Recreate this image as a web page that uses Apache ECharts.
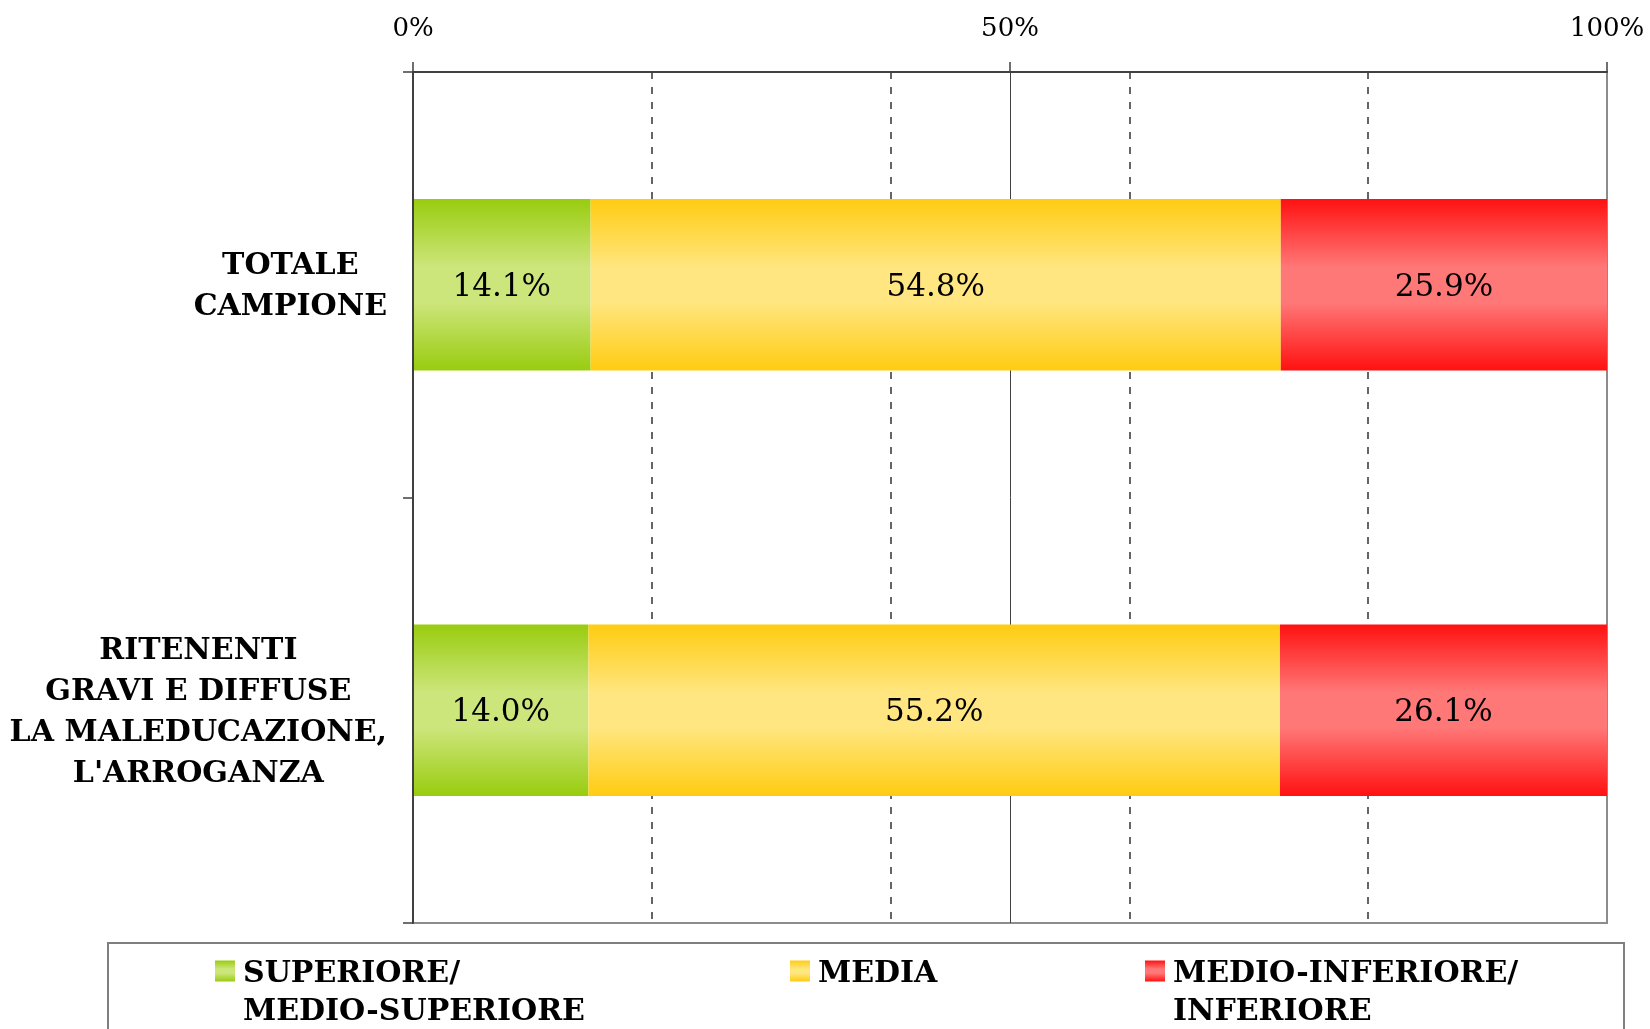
<!DOCTYPE html>
<html>
<head>
<meta charset="utf-8">
<script src="https://cdn.jsdelivr.net/npm/echarts@6/dist/echarts.min.js"></script>
<style>
html,body{margin:0;padding:0;background:#fff;}
#chart{width:1650px;height:1029px;}
</style>
</head>
<body>
<div id="chart"></div>
<script>
const categories = ['TOTALE\nCAMPIONE', "RITENENTI\nGRAVI E DIFFUSE\nLA MALEDUCAZIONE,\nL'ARROGANZA"];
const seriesNames = ['SUPERIORE/\nMEDIO-SUPERIORE', 'MEDIA', 'MEDIO-INFERIORE/\nINFERIORE'];
const superiore = [14.1, 14.0];
const media = [54.8, 55.2];
const inferiore = [25.9, 26.1];
const xTickLabels = ['0%', '50%', '100%'];

const rawSeries = [superiore, media, inferiore];
const totals = categories.map((c, i) => rawSeries.reduce((s, arr) => s + arr[i], 0));

const colorPairs = [
  ['#99cc0f', '#cde67c'],
  ['#ffcc11', '#ffe680'],
  ['#ff1111', '#ff7878']
];
function grad(p) {
  return new echarts.graphic.LinearGradient(0, 0, 0, 1, [
    {offset: 0, color: p[0]},
    {offset: 0.4, color: p[1]},
    {offset: 0.6, color: p[1]},
    {offset: 1, color: p[0]}
  ]);
}

const FONT = 'DejaVu Serif';
const legendLeft = [215, 790, 1145];

const series = rawSeries.map((arr, si) => ({
  name: seriesNames[si],
  type: 'bar',
  stack: 'total',
  xAxisIndex: 0,
  barWidth: '40.3%',
  data: arr.map((v, i) => ({value: v / totals[i] * 100, raw: v})),
  itemStyle: {color: grad(colorPairs[si])},
  label: {
    show: true,
    position: 'inside',
    offset: [0, 3],
    color: '#000',
    fontFamily: FONT,
    fontSize: 31,
    formatter: p => p.data.raw.toFixed(1) + '%'
  },
  emphasis: {disabled: true}
}));

const legends = seriesNames.map((n, i) => ({
  data: [n],
  left: legendLeft[i],
  top: 911,
  padding: 0,
  itemWidth: 20,
  itemHeight: 21,
  icon: 'rect',
  selectedMode: false,
  formatter: name => {
    const lines = name.split('\n');
    if (lines.length < 2) lines.push(' ');
    return '{e| }\n' + lines.map(l => '{t|' + l + '}').join('\n');
  },
  textStyle: {
    fontFamily: FONT,
    fontWeight: 'bold',
    fontSize: 30,
    lineHeight: 38,
    color: '#000',
    rich: {
      e: {fontSize: 30, lineHeight: 44, fontFamily: FONT},
      t: {fontFamily: FONT, fontWeight: 'bold', fontSize: 30, lineHeight: 38, color: '#000', padding: [0, 0, 0, 3]}
    }
  }
}));

const option = {
  animation: false,
  backgroundColor: '#fff',
  grid: {
    left: 413, right: 43, top: 72, bottom: 106,
    show: true, borderColor: '#8c8c8c', borderWidth: 2, backgroundColor: 'transparent'
  },
  legend: legends,
  graphic: [{
    type: 'rect',
    shape: {x: 108, y: 943, width: 1516, height: 130},
    style: {fill: 'none', stroke: '#7f7f7f', lineWidth: 2},
    z: 10, silent: true
  }],
  xAxis: [{
    type: 'value', position: 'top', min: 0, max: 100, interval: 50,
    axisLine: {show: true, lineStyle: {color: '#404040', width: 2}},
    axisTick: {show: true, length: 10, lineStyle: {color: '#404040', width: 1.5}},
    axisLabel: {
      margin: 30, color: '#000', fontFamily: FONT, fontSize: 26,
      formatter: v => xTickLabels[v / 50]
    },
    splitLine: {show: true, showMinLine: false, showMaxLine: false, lineStyle: {color: '#404040', width: 1, type: 'solid'}}
  }, {
    type: 'value', position: 'top', min: 0, max: 100, interval: 20,
    axisLine: {show: false}, axisTick: {show: false}, axisLabel: {show: false},
    splitLine: {show: true, showMinLine: false, showMaxLine: false, lineStyle: {color: '#333', width: 1.5, type: [7, 8]}}
  }],
  yAxis: {
    type: 'category', inverse: true, data: categories,
    axisLine: {show: true, lineStyle: {color: '#404040', width: 2}},
    axisTick: {show: true, length: 10, lineStyle: {color: '#404040', width: 1.5}},
    axisLabel: {
      margin: 26,
      formatter: v => v.split('\n').map(l => '{c|' + l + '}').join('\n'),
      rich: {c: {align: 'center', fontFamily: FONT, fontWeight: 'bold', fontSize: 30, lineHeight: 41, color: '#000', padding: [4, 0, 0, 0]}}
    },
    z: 5
  },
  series: series
};

const chart = echarts.init(document.getElementById('chart'));
chart.setOption(option);
</script>
</body>
</html>
